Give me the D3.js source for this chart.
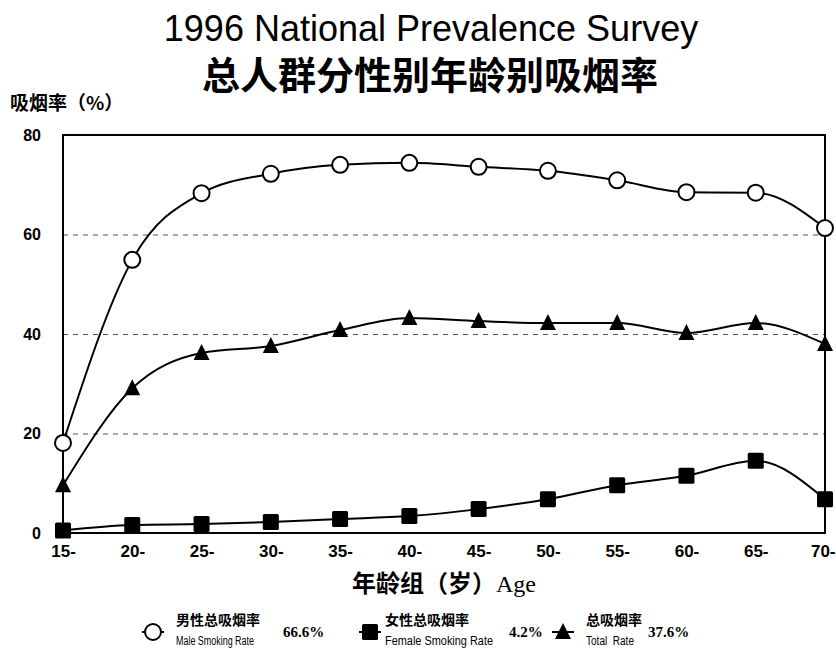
<!DOCTYPE html>
<html>
<head>
<meta charset="utf-8">
<script src="https://cdn.jsdelivr.net/npm/d3@7"></script>
<style>
  body { margin: 0; background: #fff; }
  svg { display: block; }
</style>
</head>
<body>
<div id="chart"></div>
<script>
const ages = ["15-", "20-", "25-", "30-", "35-", "40-", "45-", "50-", "55-", "60-", "65-", "70-"];
const maleRate = [18.1, 54.9, 68.3, 72.2, 74.0, 74.4, 73.6, 72.8, 70.9, 68.5, 68.4, 61.3];
const femaleRate = [0.5, 1.6, 1.8, 2.2, 2.8, 3.4, 4.8, 6.8, 9.6, 11.5, 14.5, 6.8];
const totalRate = [9.6, 29.1, 36.2, 37.6, 40.8, 43.2, 42.6, 42.2, 42.2, 40.2, 42.2, 38.0];
const yTicks = [0, 20, 40, 60, 80];
const gridTicks = [20, 40, 60];

const width = 836, height = 651;
const margin = {top: 135, bottom: 118, left: 63, right: 11};
const innerWidth = width - margin.left - margin.right,
      innerHeight = height - margin.top - margin.bottom;

const cjk = "'Noto Sans CJK SC', sans-serif";
const narrow = "'Liberation Sans Narrow', 'Arial Narrow', 'Liberation Sans', sans-serif";

const root = d3.select("#chart")
  .append("svg")
  .attr("width", width)
  .attr("height", height);

// titles
root.append("text")
  .attr("x", 431).attr("y", 41)
  .attr("text-anchor", "middle")
  .style("font-family", "'Liberation Sans', Arial, sans-serif")
  .style("font-size", "36px")
  .text("1996 National Prevalence Survey");

root.append("text")
  .attr("x", 430).attr("y", 89)
  .attr("text-anchor", "middle")
  .style("font-family", cjk)
  .style("font-weight", "bold")
  .style("font-size", "38px")
  .text("总人群分性别年龄别吸烟率");

root.append("text")
  .attr("x", 10).attr("y", 110)
  .style("font-family", cjk)
  .style("font-weight", "bold")
  .style("font-size", "19px")
  .text("吸烟率（%）");

const svg = root.append("g")
  .attr("transform", `translate(${margin.left}, ${margin.top})`);

const x = d3.scalePoint()
  .domain(ages)
  .range([0, innerWidth]);
const y = d3.scaleLinear()
  .domain([0, 80])
  .range([innerHeight, 0]);

// dashed grid
svg.append("g")
  .call(d3.axisLeft(y).tickValues(gridTicks).tickSize(-innerWidth).tickFormat(""))
  .call(g => g.select(".domain").remove())
  .call(g => g.selectAll("line")
    .attr("stroke", "#555")
    .attr("stroke-dasharray", "5,5"));

// y axis labels
svg.append("g")
  .call(d3.axisLeft(y).tickValues(yTicks).tickSize(0).tickPadding(22))
  .call(g => g.select(".domain").remove())
  .call(g => g.selectAll("text")
    .attr("fill", "#000")
    .style("font-family", "'Liberation Sans', Arial, sans-serif")
    .style("font-weight", "bold")
    .style("font-size", "16px"));

// x axis labels (last one pulled inside the page edge)
svg.append("g")
  .attr("transform", `translate(0, ${innerHeight})`)
  .call(d3.axisBottom(x).tickSize(0).tickPadding(12))
  .call(g => g.select(".domain").remove())
  .call(g => g.selectAll("text")
    .attr("fill", "#000")
    .style("font-family", narrow)
    .style("font-weight", "bold")
    .style("font-size", "17px"))
  .call(g => g.selectAll("text").filter(d => d === "70-")
    .attr("text-anchor", "end")
    .attr("x", 10));

// plot frame
svg.append("rect")
  .attr("width", innerWidth)
  .attr("height", innerHeight)
  .attr("fill", "none")
  .attr("stroke", "#000")
  .attr("stroke-width", 2);

const line = d3.line()
  .x((d, i) => x(ages[i]))
  .y(d => y(d))
  .curve(d3.curveMonotoneX);

const series = [
  {values: maleRate, marker: "circle"},
  {values: femaleRate, marker: "square"},
  {values: totalRate, marker: "triangle"}
];

const drawMarker = (g, type) => {
  if (type === "circle") {
    g.append("circle").attr("r", 8)
      .attr("fill", "#fff").attr("stroke", "#000").attr("stroke-width", 2);
  } else if (type === "square") {
    g.append("rect").attr("x", -8).attr("y", -8).attr("width", 16).attr("height", 16)
      .attr("rx", 1.5).attr("fill", "#000");
  } else {
    g.append("path").attr("d", "M0,-9L8,7L-8,7Z").attr("fill", "#000");
  }
};

series.forEach(s => {
  svg.append("path")
    .datum(s.values)
    .attr("fill", "none")
    .attr("stroke", "#000")
    .attr("stroke-width", 2)
    .attr("d", line);
  svg.append("g")
    .selectAll("g")
    .data(s.values)
    .join("g")
    .attr("transform", (d, i) => `translate(${x(ages[i])}, ${y(d)})`)
    .each(function() { drawMarker(d3.select(this), s.marker); });
});

// x axis title
const xt = root.append("text")
  .attr("x", 444).attr("y", 592)
  .attr("text-anchor", "middle")
  .style("font-size", "24px");
xt.append("tspan")
  .style("font-family", cjk)
  .style("font-weight", "bold")
  .text("年龄组（岁）");
xt.append("tspan")
  .style("font-family", "'Liberation Serif', serif")
  .text("Age");

// legend
const legendItems = [
  {marker: "circle", cx: 153, tx: 176, zh: "男性总吸烟率", en: "Male Smoking Rate", enW: 78, pct: "66.6%", px: 283},
  {marker: "square", cx: 370, tx: 385, zh: "女性总吸烟率", en: "Female Smoking Rate", enW: 108, pct: "4.2%", px: 509},
  {marker: "triangle", cx: 563, tx: 586, zh: "总吸烟率", en: "Total  Rate", enW: 48, pct: "37.6%", px: 648}
];

const legend = root.append("g");
legendItems.forEach(item => {
  const g = legend.append("g").attr("transform", `translate(${item.cx}, 632)`);
  g.append("line").attr("x1", -11).attr("x2", 11)
    .attr("stroke", "#000").attr("stroke-width", 2);
  drawMarker(g, item.marker);
  legend.append("text")
    .attr("x", item.tx).attr("y", 625)
    .style("font-family", cjk)
    .style("font-weight", "bold")
    .style("font-size", "14px")
    .text(item.zh);
  legend.append("text")
    .attr("x", item.tx).attr("y", 645)
    .attr("textLength", item.enW)
    .attr("lengthAdjust", "spacingAndGlyphs")
    .style("font-family", narrow)
    .style("font-size", "12px")
    .style("white-space", "pre")
    .text(item.en);
  legend.append("text")
    .attr("x", item.px).attr("y", 637)
    .style("font-family", "'Liberation Serif', serif")
    .style("font-weight", "bold")
    .style("font-size", "15px")
    .text(item.pct);
});
</script>
</body>
</html>
